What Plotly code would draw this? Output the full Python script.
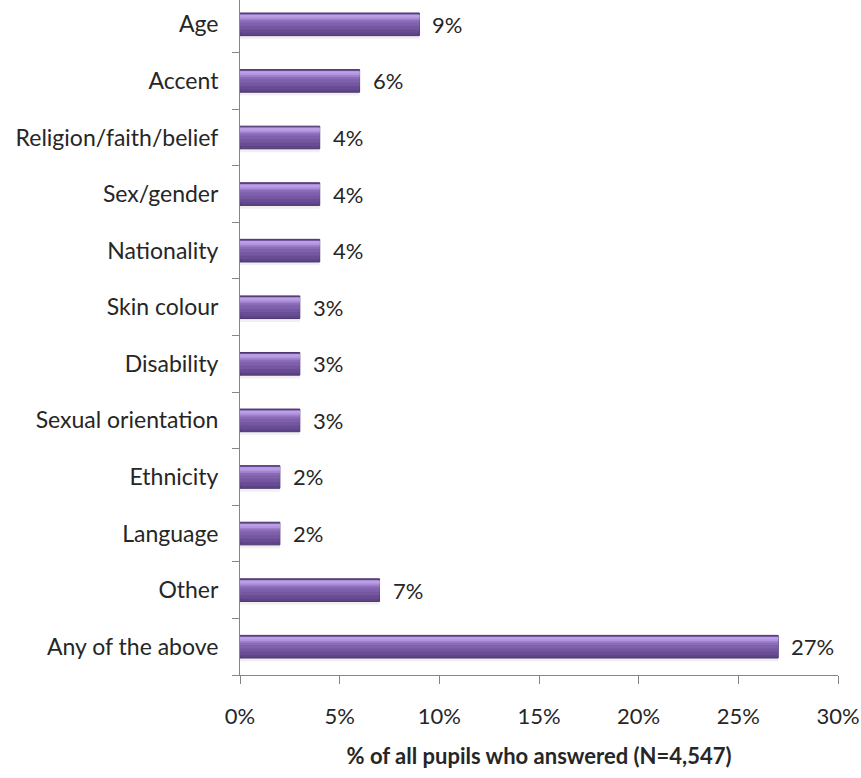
import plotly.graph_objects as go

# Categories top-to-bottom as shown, with share of pupils (%)
categories = [
    "Age", "Accent", "Religion/faith/belief", "Sex/gender", "Nationality",
    "Skin colour", "Disability", "Sexual orientation", "Ethnicity",
    "Language", "Other", "Any of the above",
]
values = [9, 6, 4, 4, 4, 3, 3, 3, 2, 2, 7, 27]
x_ticks = [0, 5, 10, 15, 20, 25, 30]
x_tick_labels = ["0%", "5%", "10%", "15%", "20%", "25%", "30%"]
x_title = "% of all pupils who answered (N=4,547)"

FONT = "Lato, 'Open Sans', sans-serif"
TEXT = "#262626"
AXIS = "#868686"

fig = go.Figure()

# soft shadow under each bar
fig.add_trace(go.Bar(
    y=categories, x=values, orientation="h",
    width=0.07, offset=-0.26,
    marker=dict(color="rgba(0,0,0,0.06)", line=dict(width=0)),
    hoverinfo="skip", showlegend=False,
))
# main bar body with dark rim
fig.add_trace(go.Bar(
    y=categories, x=values, orientation="h",
    width=0.4, offset=-0.2,
    marker=dict(color="#5E4488", line=dict(color="#4A366C", width=1)),
    showlegend=False,
))

# stacked bands that shade the rounded face from dark (bottom) to light (top)
shade_bands = [
    (-0.15, 0.33, "#684D94"),
    (-0.09, 0.27, "#7456A1"),
    (-0.03, 0.21, "#7E60AC"),
    (0.03, 0.14, "#8A6BB8"),
    (0.07, 0.10, "#9D7FCC"),
    (0.10, 0.065, "#B294DE"),
    (0.13, 0.04, "#BCA0E5"),
]
for off, w, col in shade_bands:
    fig.add_trace(go.Bar(
        y=categories, x=values, orientation="h",
        width=w, offset=off,
        marker=dict(color=col, line=dict(width=0)),
        hoverinfo="skip", showlegend=False,
    ))

# value labels to the right of each bar
for cat, v in zip(categories, values):
    fig.add_annotation(
        x=v, y=cat, text=f"{v}%", showarrow=False,
        xanchor="left", yanchor="middle", xshift=11,
        font=dict(family=FONT, size=22, color=TEXT),
    )

fig.update_layout(
    width=861, height=778,
    margin=dict(l=240, r=23, t=0, b=103),
    paper_bgcolor="white", plot_bgcolor="white",
    barmode="overlay",
    font=dict(family=FONT, size=22, color=TEXT),
    xaxis=dict(
        range=[0, 30], tickvals=x_ticks, ticktext=x_tick_labels,
        showgrid=False, zeroline=False,
        showline=True, linecolor=AXIS, linewidth=1,
        ticks="outside", ticklen=8, tickcolor=AXIS,
        ticklabelstandoff=14,
        tickfont=dict(family=FONT, size=22, color=TEXT),
        title=dict(text=f"<b>{x_title}</b>", standoff=20,
                   font=dict(family=FONT, size=22, color=TEXT)),
    ),
    yaxis=dict(
        categoryorder="array", categoryarray=categories[::-1],
        range=[-0.5, 11.43],
        showgrid=False, zeroline=False,
        showline=True, linecolor=AXIS, linewidth=1,
        ticks="outside", ticklen=7, tickcolor=AXIS, tickson="boundaries",
        ticklabelstandoff=16,
        tickfont=dict(family=FONT, size=23, color=TEXT),
    ),
)

fig.write_html("out.html")
